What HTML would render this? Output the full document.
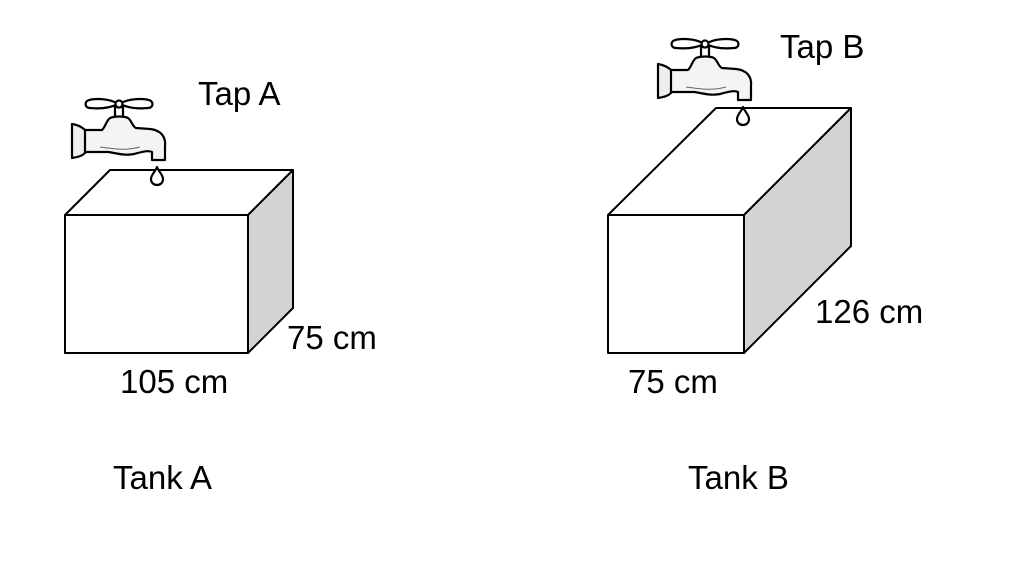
<!DOCTYPE html>
<html><head><meta charset="utf-8"><style>
html,body{margin:0;padding:0;background:#fff;}
svg{display:block;}
text{font-family:"Liberation Sans",Arial,sans-serif;font-size:33px;fill:#000;}
</style></head><body>
<svg width="1024" height="566" viewBox="0 0 1024 566" xmlns="http://www.w3.org/2000/svg">
<defs>
<g id="tap" stroke="#000" stroke-width="2.2" stroke-linejoin="round" fill="#fff">
  <path d="M118 104 C110 98 92 98 87 101 C84 104 86 108 90 108 C100 109 110 108 118 104 Z"/>
  <path d="M120 104 C128 98 146 98 151 101 C154 104 152 108 148 108 C138 109 128 108 120 104 Z"/>
  <rect x="115" y="107" width="8" height="11"/>
  <circle cx="119" cy="104" r="3.5"/>
  <path d="M84 130 L102 130 C106 126 106 121 110 118 C115 116 124 116 128 118 C132 121 132 126 136 128 L150 129 C161 130 166 137 165 146 L165 160 L152 160 L152 152 C148 150 142 152 134 154 C124 156 116 153 108 152 L84 152 Z" fill="#f4f4f4"/>
  <path d="M72 124 C78 125 82 127 85 130 L85 153 C82 156 78 157 72 158 Z" fill="#eee"/>
  <path d="M100 147 C115 149 125 151 140 147" fill="none" stroke-width="1" stroke="#666"/>
  <path d="M157 167 C155 172 151 175 151 179 C151 183 154 185 157 185 C160 185 163 183 163 179 C163 175 159 172 157 167 Z"/>
</g>
</defs>
<g stroke="#000" stroke-width="2" stroke-linejoin="round">
  <polygon points="65,215 110,170 293,170 248,215" fill="#fff"/>
  <polygon points="248,215 293,170 293,308 248,353" fill="#d3d3d3"/>
  <rect x="65" y="215" width="183" height="138" fill="#fff"/>
  <polygon points="608,215 716,108 851,108 744,215" fill="#fff"/>
  <polygon points="744,215 851,108 851,246 744,353" fill="#d3d3d3"/>
  <rect x="608" y="215" width="136" height="138" fill="#fff"/>
</g>
<use href="#tap"/>
<use href="#tap" transform="translate(586,-60)"/>
<text x="198" y="105">Tap A</text>
<text x="780" y="58">Tap B</text>
<text x="287" y="349">75 cm</text>
<text x="120" y="393">105 cm</text>
<text x="815" y="323">126 cm</text>
<text x="628" y="393">75 cm</text>
<text x="113" y="489">Tank A</text>
<text x="688" y="489">Tank B</text>
</svg>
</body></html>
